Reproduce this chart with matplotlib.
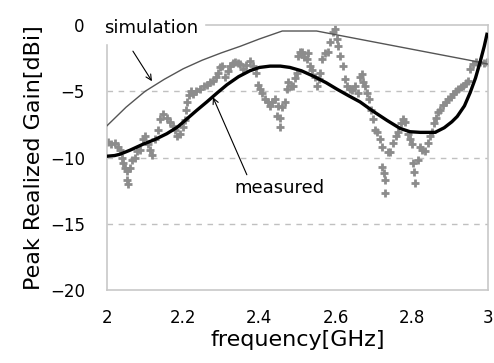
import matplotlib.pyplot as plt

# simulated gain (thin line)
sim_freq = [2.0, 2.05, 2.1, 2.15, 2.2, 2.25, 2.3, 2.35, 2.4, 2.46, 2.55, 2.65, 2.75, 2.85, 2.95, 3.0]
sim_gain = [-7.6, -6.2, -5.0, -4.1, -3.3, -2.65, -2.1, -1.6, -1.05, -0.45, -0.45, -1.0, -1.55, -2.1, -2.65, -2.95]

# measured gain, smoothed (thick black line)
fit_freq = [2.0, 2.02, 2.034, 2.06, 2.094, 2.125, 2.157, 2.185, 2.209, 2.235, 2.262, 2.29,
            2.315, 2.345, 2.375, 2.40, 2.428, 2.455, 2.48, 2.51, 2.541, 2.575, 2.604, 2.635,
            2.664, 2.698, 2.735, 2.769, 2.795, 2.822, 2.861, 2.885, 2.905, 2.919, 2.938, 2.953,
            2.967, 2.979, 2.99, 2.997]
fit_gain = [-9.9, -9.85, -9.75, -9.45, -9.0, -8.65, -8.2, -7.7, -7.1, -6.45, -5.8, -5.1,
            -4.5, -3.9, -3.45, -3.2, -3.1, -3.1, -3.2, -3.45, -3.85, -4.35, -4.85, -5.35,
            -5.8, -6.5, -7.2, -7.8, -8.05, -8.1, -8.1, -7.75, -7.3, -6.9, -6.1, -5.1,
            -4.0, -2.8, -1.6, -0.7]

# measured gain, raw points (grey crosses)
meas_freq = [2.003, 2.010, 2.021, 2.029, 2.034, 2.039, 2.042, 2.047, 2.052, 2.052, 2.055, 2.060,
             2.066, 2.073, 2.079, 2.087, 2.094, 2.100, 2.108, 2.113, 2.118, 2.126, 2.134, 2.139,
             2.147, 2.157, 2.165, 2.173, 2.178, 2.184, 2.192, 2.199, 2.205, 2.207, 2.210, 2.215,
             2.220, 2.226, 2.234, 2.244, 2.255, 2.262, 2.270, 2.278, 2.286, 2.291, 2.297, 2.302,
             2.310, 2.318, 2.323, 2.331, 2.336, 2.344, 2.349, 2.357, 2.365, 2.375, 2.383, 2.391,
             2.396, 2.402, 2.407, 2.415, 2.423, 2.428, 2.433, 2.441, 2.446, 2.449, 2.454, 2.454,
             2.459, 2.467, 2.472, 2.475, 2.483, 2.488, 2.493, 2.499, 2.501, 2.507, 2.512, 2.517,
             2.525, 2.528, 2.533, 2.538, 2.546, 2.551, 2.556, 2.559, 2.564, 2.572, 2.580, 2.585,
             2.593, 2.598, 2.604, 2.606, 2.612, 2.619, 2.625, 2.630, 2.638, 2.643, 2.651, 2.659,
             2.664, 2.669, 2.672, 2.677, 2.682, 2.688, 2.693, 2.698, 2.703, 2.709, 2.717, 2.722,
             2.722, 2.727, 2.730, 2.730, 2.738, 2.743, 2.751, 2.759, 2.764, 2.772, 2.777, 2.783,
             2.790, 2.795, 2.801, 2.803, 2.806, 2.808, 2.816, 2.822, 2.827, 2.835, 2.843, 2.848,
             2.853, 2.858, 2.864, 2.869, 2.874, 2.882, 2.890, 2.895, 2.903, 2.908, 2.916, 2.921,
             2.929, 2.934, 2.942, 2.948, 2.953, 2.961, 2.969, 2.979, 2.990, 2.997]
meas_gain = [-8.8, -9.0, -8.9, -9.2, -9.4, -10.0, -10.4, -10.8, -11.0, -11.7, -12.0, -10.8,
             -10.2, -10.0, -9.5, -9.4, -8.6, -8.4, -9.0, -9.4, -9.8, -8.6, -7.9, -7.1,
             -6.7, -7.0, -7.35, -7.6, -7.9, -8.4, -8.25, -7.7, -7.2, -6.4, -5.8, -5.3,
             -5.0, -5.2, -5.0, -4.85, -4.6, -4.5, -4.3, -4.2, -3.9, -3.6, -3.2, -3.1,
             -3.9, -3.5, -3.1, -2.9, -2.8, -2.9, -2.95, -3.3, -3.0, -2.7, -3.1, -3.6,
             -4.5, -4.8, -5.1, -5.6, -5.8, -6.1, -5.8, -5.6, -6.9, -6.1, -7.7, -7.0,
             -6.2, -5.8, -4.85, -4.3, -4.6, -4.6, -4.0, -3.6, -2.3, -2.0, -2.0, -2.4,
             -2.6, -2.1, -3.1, -3.4, -3.9, -4.6, -4.1, -3.6, -2.6, -2.1, -2.0, -1.3,
             -0.55, -0.3, -1.06, -1.6, -2.3, -3.1, -4.1, -4.6, -4.85, -4.9, -4.6, -5.1,
             -3.9, -3.7, -4.3, -4.6, -5.1, -5.6, -6.4, -7.1, -7.9, -8.1, -8.6, -9.2,
             -10.7, -11.2, -11.7, -12.7, -9.6, -9.6, -8.9, -8.4, -8.1, -7.4, -7.1, -7.35,
             -8.2, -8.6, -9.0, -10.4, -11.1, -11.9, -10.2, -9.2, -9.4, -9.5, -8.9, -8.4,
             -8.1, -7.4, -7.0, -6.6, -6.4, -6.0, -5.8, -5.6, -5.4, -5.2, -5.0, -4.85,
             -4.7, -4.6, -4.4, -4.2, -3.3, -2.95, -2.8, -2.8, -2.9, -2.8]

x_ticks = [2, 2.2, 2.4, 2.6, 2.8, 3]
x_labels = ["2", "2.2", "2.4", "2.6", "2.8", "3"]
y_ticks = [0, -5, -10, -15, -20]

fig = plt.figure(figsize=(4.94, 3.63), dpi=100, facecolor='white')
ax = fig.add_axes([0.2166, 0.201, 0.7714, 0.730])

ax.plot(meas_freq, meas_gain, linestyle='none', marker='+', markersize=6,
        markeredgewidth=2, color='#8c8c8c', zorder=2)
ax.plot(sim_freq, sim_gain, color='#555555', linewidth=1.0, zorder=3)
ax.plot(fit_freq, fit_gain, color='black', linewidth=2.4, zorder=4)

ax.set_xlim(2, 3)
ax.set_ylim(-20, 0)
ax.set_xticks(x_ticks)
ax.set_xticklabels(x_labels)
ax.set_yticks(y_ticks)
ax.tick_params(length=0, labelsize=12, pad=14)
ax.tick_params(axis='y', pad=16)

# dashed grid only at the inner levels
for level in [-5, -10, -15]:
    ax.axhline(level, color='#c0c0c0', linestyle=(0, (4, 4)), linewidth=1.0, zorder=1)

for spine in ax.spines.values():
    spine.set_color('#c8c8c8')
    spine.set_linewidth(1.2)

ax.set_xlabel("frequency[GHz]", fontsize=16, labelpad=2)
ax.set_ylabel("Peak Realized Gain[dBi]", fontsize=16, labelpad=4)

# labels with arrows
ax.text(1.992, -0.25, "simulation", fontsize=13, ha='left', va='center',
        backgroundcolor='white', zorder=6, clip_on=False)
ax.annotate("", xy=(2.118, -4.24), xytext=(2.068, -1.97),
            arrowprops=dict(arrowstyle='->', color='black', lw=0.8, shrinkA=0, shrinkB=0))
ax.annotate("", xy=(2.278, -5.45), xytext=(2.367, -11.3),
            arrowprops=dict(arrowstyle='->', color='black', lw=0.8, shrinkA=0, shrinkB=0))
ax.text(2.333, -12.3, "measured", fontsize=13, ha='left', va='center', zorder=6)

fig.savefig("out.png", dpi=100, facecolor='white')
